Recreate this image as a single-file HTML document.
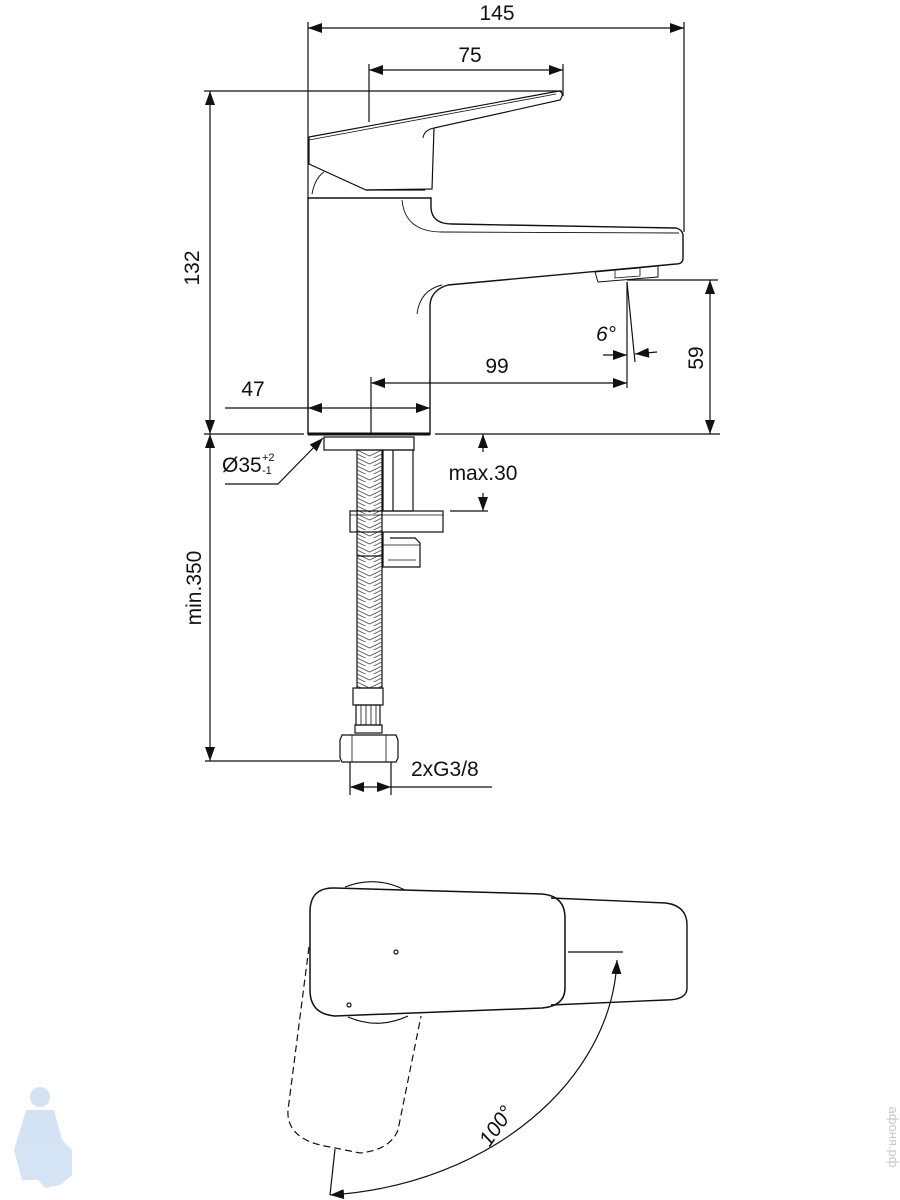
<!DOCTYPE html>
<html><head><meta charset="utf-8"><style>
html,body{margin:0;padding:0;background:#fff}
svg{display:block}
text{font-family:"Liberation Sans",sans-serif;fill:#111}
</style></head><body>
<svg width="900" height="1200" viewBox="0 0 900 1200" xmlns="http://www.w3.org/2000/svg">
<defs>
<marker id="a" markerWidth="14" markerHeight="10" refX="14" refY="5" orient="auto-start-reverse" markerUnits="userSpaceOnUse"><path d="M0,0 L14,5 L0,10 z" fill="#111"/></marker>
<pattern id="h" width="25" height="8" patternUnits="userSpaceOnUse" x="357" y="450"><path d="M0,0 L12.5,6 L25,0 M0,4 L12.5,10 L25,4" fill="none" stroke="#555" stroke-width="0.8"/></pattern>
</defs>
<g fill="none" stroke="#111" stroke-width="1.2">
<line x1="308" y1="22" x2="308" y2="198"/>
<line x1="684" y1="22" x2="684" y2="232"/>
<line x1="369" y1="64" x2="369" y2="122"/>
<line x1="563" y1="64" x2="563" y2="96"/>
<line x1="204" y1="91" x2="562" y2="91"/>
<line x1="204" y1="434" x2="304" y2="434"/>
<line x1="435" y1="434" x2="720" y2="434"/>
<line x1="627" y1="280" x2="718" y2="280"/>
<line x1="627" y1="282" x2="627" y2="388"/>
<line x1="627" y1="282" x2="635" y2="362"/>
<line x1="371" y1="377" x2="371" y2="434"/>
<line x1="308" y1="28" x2="684" y2="28" marker-start="url(#a)" marker-end="url(#a)"/>
<line x1="369" y1="70" x2="563" y2="70" marker-start="url(#a)" marker-end="url(#a)"/>
<line x1="210" y1="91" x2="210" y2="434" marker-start="url(#a)" marker-end="url(#a)"/>
<line x1="710" y1="280" x2="710" y2="434" marker-start="url(#a)" marker-end="url(#a)"/>
<line x1="371" y1="383" x2="627" y2="383" marker-start="url(#a)" marker-end="url(#a)"/>
<line x1="225" y1="408" x2="308" y2="408"/>
<line x1="308" y1="408" x2="430" y2="408" marker-start="url(#a)" marker-end="url(#a)"/>
<line x1="603" y1="355" x2="627" y2="355" marker-end="url(#a)"/>
<line x1="657" y1="352" x2="635" y2="354" marker-end="url(#a)"/>
<path d="M309,137 L559,91 Q565,93 560,100 L434,128 L432,189 L366,190 L309,164 Z"/>
<path d="M309,140 L556,94" stroke-width="0.8"/>
<path d="M423,138 Q424,130 434,128" stroke-width="1"/>
<path d="M312,194 Q315,178 324,172" stroke-width="1"/>
<line x1="366" y1="190" x2="425" y2="190"/>
<path d="M308,198 L431,198 L431,208 Q432,224 452,224 L676,228 Q683,230 683,236 L683,258 Q683,264 676,264 L448,285 Q431,290 430,305 L430,434 L308,434 Z" stroke-width="1.4"/>
<path d="M402,200 Q405,232 442,232 L679,233" stroke-width="0.9"/>
<path d="M417,314 Q420,290 442,285" stroke-width="0.9"/>
<path d="M595,272 L658,266 L658,277 L598,282 Z" stroke-width="1"/>
<path d="M615,270 L640,268 L640,276 L615,278 Z" stroke-width="0.8"/>
<line x1="308" y1="434" x2="430" y2="434" stroke-width="3"/>
<rect x="324" y="437" width="90" height="13"/>
<rect x="357" y="450" width="25" height="238" fill="url(#h)"/>
<line x1="357" y1="556" x2="382" y2="556"/>
<rect x="383" y="450" width="30" height="61"/>
<line x1="393" y1="450" x2="393" y2="511"/>
<rect x="350" y="511" width="93" height="21"/>
<line x1="350" y1="515" x2="443" y2="515" stroke-width="0.8"/>
<path d="M383,532 L383,567 L420,567 L420,543 L415,538 L390,538" />
<path d="M383,545 L420,545 M388,560 L416,560" stroke-width="0.8"/>
<rect x="353" y="688" width="30" height="17"/>
<rect x="356" y="705" width="24" height="20"/>
<path d="M361,705 V725 M366,705 V725 M371,705 V725 M376,705 V725" stroke-width="0.8"/>
<rect x="355" y="725" width="27" height="8"/>
<path d="M342,735 L396,735 L398,740 L398,758 L396,762 L342,762 L340,758 L340,740 Z"/>
<path d="M352,735 V762 M386,735 V762" stroke-width="0.8"/>
<line x1="210" y1="434" x2="210" y2="761" marker-start="url(#a)" marker-end="url(#a)"/>
<line x1="205" y1="761" x2="340" y2="761"/>
<line x1="483" y1="452" x2="483" y2="434" marker-end="url(#a)"/>
<line x1="483" y1="493" x2="483" y2="511" marker-end="url(#a)"/>
<line x1="450" y1="511" x2="488" y2="511"/>
<path d="M225,484 L278,484 L323,438" marker-end="url(#a)"/>
<line x1="350" y1="762" x2="350" y2="795"/>
<line x1="391" y1="762" x2="391" y2="795"/>
<line x1="370" y1="787" x2="350" y2="787" marker-end="url(#a)"/>
<line x1="370" y1="787" x2="391" y2="787" marker-end="url(#a)"/>
<line x1="391" y1="787" x2="492" y2="787"/>
<path d="M345,887 Q375,875 405,890" />
<path d="M348,1017 Q378,1030 408,1016" />
<path d="M551,898 L666,903 Q687,906 687,925 L687,988 Q687,1000 666,1000 L551,1005" stroke-width="1.4"/>
<path d="M335,888 L542,894 Q565,896 565,918 L565,988 Q565,1006 542,1008 L335,1016 Q310,1014 310,990 L310,912 Q310,887 335,888 Z" stroke-width="1.5"/>
<line x1="568" y1="952" x2="623" y2="952"/>
<circle cx="396" cy="952" r="2"/>
<circle cx="349" cy="1005" r="2"/>
<path d="M309,947 L288,1110 Q286,1140 330,1147 L360,1153 Q390,1150 398,1130 L421,1016" stroke-dasharray="7,4"/>
<line x1="335" y1="1149" x2="330" y2="1195"/>
<path d="M617,960 C612,1080 490,1185 330,1195" marker-start="url(#a)" marker-end="url(#a)"/>
</g>
<g font-size="21">
<text x="497" y="20" text-anchor="middle">145</text>
<text x="470" y="62" text-anchor="middle">75</text>
<text transform="translate(199,268) rotate(-90)" text-anchor="middle">132</text>
<text transform="translate(703,358) rotate(-90)" text-anchor="middle">59</text>
<text x="497" y="373" text-anchor="middle">99</text>
<text x="253" y="396" text-anchor="middle">47</text>
<text x="596" y="341" font-style="italic">6°</text>
<text x="222" y="472">Ø35</text>
<text x="262" y="461" font-size="11">+2</text>
<text x="262" y="474" font-size="11">-1</text>
<text x="483" y="480" text-anchor="middle">max.30</text>
<text transform="translate(201,588) rotate(-90)" text-anchor="middle">min.350</text>
<text x="411" y="776">2xG3/8</text>
<text transform="translate(502,1130) rotate(-55)" text-anchor="middle" font-style="italic">100°</text>
</g>
<g fill="#cfe1f3" opacity="0.9">
<circle cx="40" cy="1097" r="10"/>
<path d="M26,1110 L54,1110 L62,1140 L72,1150 L72,1175 L60,1185 L45,1188 L38,1180 L22,1180 L14,1150 Z"/>
</g>
<text transform="translate(889,1137) rotate(90)" text-anchor="middle" font-size="13" style="fill:#c8c8c8">афоня.рф</text>
</svg>
</body></html>
